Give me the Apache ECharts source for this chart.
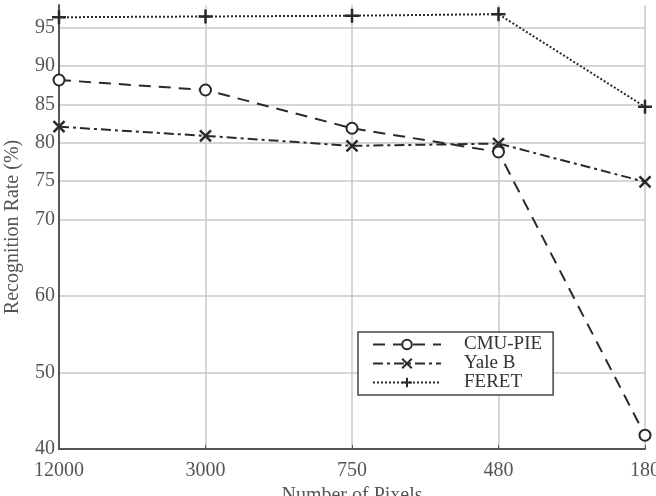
<!DOCTYPE html>
<html>
<head>
<meta charset="utf-8">
<script src="https://cdn.jsdelivr.net/npm/echarts@6/dist/echarts.min.js"></script>
<style>
  html, body { margin: 0; padding: 0; background: #fff; }
  #main { width: 656px; height: 496px; }
</style>
</head>
<body>
<div id="main"></div>
<script>
// x categories (number of pixels)
const pixels = ['12000', '3000', '750', '480', '180'];
// recognition rates
const cmuPie = [88.2, 86.9, 81.9, 78.8, 41.8];
const yaleB = [82.1, 80.9, 79.6, 79.9, 74.9];
const feret = [96.4, 96.5, 96.6, 96.8, 84.7];
// y labels that are actually shown
const yLabels = [40, 50, 60, 70, 75, 80, 85, 90, 95];

const font = 'Liberation Serif';
const ink = '#2a2a2a';
const grid = '#c8c8c8';

const plusPath = 'path://M5,0L5,10M0,5L10,5';
const crossPath = 'path://M0,0L10,10M10,0L0,10';

// split line at every 5, but only draw the ones that have a label
const splitColors = [];
for (let v = 40; v <= 95; v += 5) {
    splitColors.push(yLabels.indexOf(v) >= 0 && v !== 40 ? grid : 'rgba(0,0,0,0)');
}
splitColors.push('rgba(0,0,0,0)');

const chart = echarts.init(document.getElementById('main'));
const option = {
    animation: false,
    grid: { left: 59, right: 11, top: 5, bottom: 47, outerBoundsMode: 'none' },
    xAxis: {
        type: 'category',
        data: pixels,
        boundaryGap: false,
        name: 'Number of Pixels',
        nameLocation: 'middle',
        nameGap: 36,
        nameTextStyle: { fontFamily: font, fontSize: 20, color: '#555' },
        axisLine: { lineStyle: { color: '#555', width: 2 } },
        axisTick: { inside: true, length: 4, alignWithLabel: true, lineStyle: { color: '#555' } },
        axisLabel: { fontFamily: font, fontSize: 20, color: '#555', margin: 12 },
        splitLine: { show: true, lineStyle: { color: grid, width: 1.5 } }
    },
    yAxis: {
        type: 'value',
        min: 40,
        max: 98,
        interval: 5,
        name: 'Recognition Rate (%)',
        nameLocation: 'middle',
        nameGap: 36,
        nameRotate: 90,
        nameTextStyle: { fontFamily: font, fontSize: 20, color: '#555' },
        axisLine: { show: true, lineStyle: { color: '#555', width: 2 } },
        axisTick: { show: false },
        axisLabel: {
            fontFamily: font, fontSize: 20, color: '#555', margin: 4,
            formatter: function (v) { return yLabels.indexOf(v) >= 0 ? String(v) : ''; }
        },
        splitLine: { show: true, lineStyle: { color: splitColors, width: 1.5 } }
    },
    legend: {
        orient: 'vertical',
        left: 358,
        top: 332,
        padding: [3, 11, 3, 14],
        borderColor: '#444',
        borderWidth: 1.5,
        backgroundColor: '#fff',
        itemWidth: 68,
        itemHeight: 12,
        itemGap: 0,
        textStyle: { fontFamily: font, fontSize: 19, color: '#333', padding: [0, 0, 0, 18] },
        data: ['CMU-PIE', 'Yale B', 'FERET']
    },
    series: [
        {
            name: 'CMU-PIE',
            type: 'line',
            data: cmuPie,
            symbol: 'circle',
            symbolSize: 11,
            itemStyle: { color: '#fff', borderColor: ink, borderWidth: 2 },
            lineStyle: { color: ink, width: 2, type: [12, 8] },
            z: 3
        },
        {
            name: 'Yale B',
            type: 'line',
            data: yaleB,
            symbol: crossPath,
            symbolSize: 11,
            itemStyle: { color: 'none', borderColor: ink, borderWidth: 2.5 },
            lineStyle: { color: ink, width: 2, type: [10, 4, 3, 4] },
            z: 2
        },
        {
            name: 'FERET',
            type: 'line',
            data: feret,
            symbol: plusPath,
            symbolSize: 14,
            itemStyle: { color: 'none', borderColor: ink, borderWidth: 2.5 },
            lineStyle: { color: ink, width: 2, type: [2, 2] },
            z: 2
        }
    ]
};
chart.setOption(option);
</script>
</body>
</html>
